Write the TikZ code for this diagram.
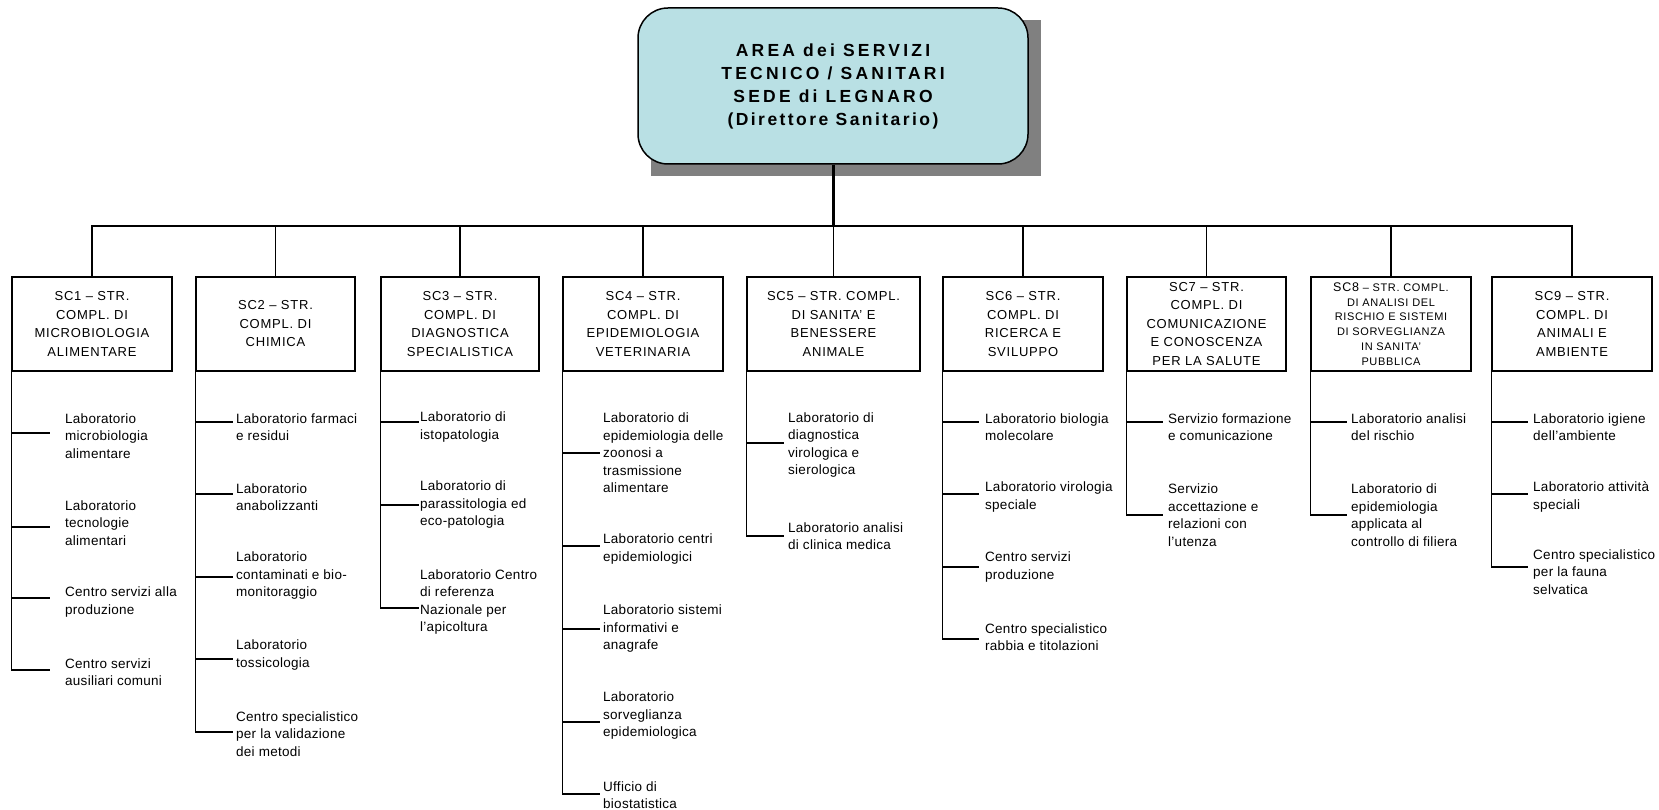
\documentclass[tikz,border=0pt]{standalone}
\usepackage{fontspec}
\setmainfont{Liberation Sans}
\usetikzlibrary{calc}
\definecolor{titlefill}{RGB}{185,224,228}
\definecolor{shadowgray}{RGB}{128,128,128}
\tikzset{
  titlebox/.style={draw=black, line width=1.5pt, fill=titlefill, rounded corners=30pt,
    minimum width=390pt, minimum height=156pt, align=center, inner sep=0pt,
    font=\bfseries\fontsize{17.5}{23}\selectfont\addfontfeatures{LetterSpace=18.5}},
  scbox/.style={draw=black, line width=1.3pt, fill=white, minimum height=94pt,
    align=center, inner sep=0pt,
    font=\fontsize{13}{18.5}\selectfont\addfontfeatures{LetterSpace=6}},
  kid/.style={anchor=west, align=left, inner sep=0pt,
    font=\fontsize{13.5}{17.5}\selectfont\addfontfeatures{LetterSpace=2}},
  conn/.style={line width=1.3pt},
  bus/.style={line width=2.4pt},
  stem/.style={line width=3pt},
}
\newcommand\kid[7]{%
  \node[kid] (#1) at (#3,#6) {#7};
  \coordinate (#1t) at (#4,#5);
  \draw[conn] (#2.south west |- #1t) -- (#1t);
}
\begin{document}
\begin{tikzpicture}[x=1pt,y=-1pt]
\useasboundingbox (0,0) rectangle (1659,810);
% title
\fill[shadowgray] (651,20) rectangle (1041,176);
\node[titlebox] (top) at (833,86) {AREA dei SERVIZI\\TECNICO / SANITARI\\SEDE di LEGNARO\\{\addfontfeatures{LetterSpace=14}(Direttore Sanitario)}};
% boxes
\node[scbox, minimum width=160pt] (sc1) at (92,324) {SC1 – STR.\\COMPL. DI\\MICROBIOLOGIA\\ALIMENTARE};
\node[scbox, minimum width=159pt] (sc2) at (275.5,324) {SC2 – STR.\\COMPL. DI\\CHIMICA};
\node[scbox, minimum width=158pt] (sc3) at (460,324) {SC3 – STR.\\COMPL. DI\\DIAGNOSTICA\\SPECIALISTICA};
\node[scbox, minimum width=160pt] (sc4) at (643,324) {SC4 – STR.\\COMPL. DI\\EPIDEMIOLOGIA\\VETERINARIA};
\node[scbox, minimum width=173pt] (sc5) at (833.5,324) {SC5 – STR. COMPL.\\DI SANITA’ E\\BENESSERE\\ANIMALE};
\node[scbox, minimum width=160pt] (sc6) at (1023,324) {SC6 – STR.\\COMPL. DI\\RICERCA E\\SVILUPPO};
\node[scbox, minimum width=159pt] (sc7) at (1206.5,324) {SC7 – STR.\\COMPL. DI\\COMUNICAZIONE\\E CONOSCENZA\\PER LA SALUTE};
\node[scbox, minimum width=160pt, font=\fontsize{11}{14.8}\selectfont\addfontfeatures{LetterSpace=6}] (sc8) at (1391,324) {{\fontsize{12.5}{14.8}\selectfont SC8} – STR. COMPL.\\DI ANALISI DEL\\RISCHIO E SISTEMI\\DI SORVEGLIANZA\\IN SANITA’\\PUBBLICA};
\node[scbox, minimum width=160pt] (sc9) at (1572,324) {SC9 – STR.\\COMPL. DI\\ANIMALI E\\AMBIENTE};
% bus
\coordinate (busy) at (0,226);
\draw[stem] (top.south) -- (top.south |- busy);
\draw[bus] ([xshift=-0.6pt]sc1.north |- busy) -- ([xshift=0.6pt]sc9.north |- busy);
\foreach \b in {sc1,sc2,sc3,sc4,sc5,sc6,sc7,sc8,sc9}
  \draw[conn] (\b.north |- busy) -- (\b.north);
% SC1
\kid{c11}{sc1}{65}{50}{433}{436}{Laboratorio\\microbiologia\\alimentare}
\kid{c12}{sc1}{65}{50}{527}{523}{Laboratorio\\tecnologie\\alimentari}
\kid{c13}{sc1}{65}{50}{598}{602}{Centro servizi alla\\produzione}
\kid{c14}{sc1}{65}{50}{670}{672}{Centro servizi\\ausiliari comuni}
\draw[conn] (sc1.south west) -- (sc1.south west |- c14t);
% SC2
\kid{c21}{sc2}{236}{233}{422}{427}{Laboratorio farmaci\\e residui}
\kid{c22}{sc2}{236}{233}{494}{497}{Laboratorio\\anabolizzanti}
\kid{c23}{sc2}{236}{233}{577}{576}{Laboratorio\\contaminati e bio-\\monitoraggio}
\kid{c24}{sc2}{236}{233}{659}{655}{Laboratorio\\tossicologia}
\kid{c25}{sc2}{236}{233}{732}{734}{Centro specialistico\\per la validazione\\dei metodi}
\draw[conn] (sc2.south west) -- (sc2.south west |- c25t);
% SC3
\kid{c31}{sc3}{420}{419}{422}{427}{Laboratorio di\\istopatologia}
\kid{c32}{sc3}{420}{419}{505}{505}{Laboratorio di\\parassitologia ed\\eco-patologia}
\kid{c33}{sc3}{420}{419}{608}{602}{Laboratorio Centro\\di referenza\\Nazionale per\\l’apicoltura}
\draw[conn] (sc3.south west) -- (sc3.south west |- c33t);
% SC4
\kid{c41}{sc4}{603}{600}{453}{453}{Laboratorio di\\epidemiologia delle\\zoonosi a\\trasmissione\\alimentare}
\kid{c42}{sc4}{603}{600}{546}{549}{Laboratorio centri\\epidemiologici}
\kid{c43}{sc4}{603}{600}{629}{629}{Laboratorio sistemi\\informativi e\\anagrafe}
\kid{c44}{sc4}{603}{600}{722}{716}{Laboratorio\\sorveglianza\\epidemiologica}
\kid{c45}{sc4}{603}{600}{794}{795}{Ufficio di\\biostatistica}
\draw[conn] (sc4.south west) -- (sc4.south west |- c45t);
% SC5
\kid{c51}{sc5}{788}{784}{443}{445}{Laboratorio di\\diagnostica\\virologica e\\sierologica}
\kid{c52}{sc5}{788}{784}{536}{536}{Laboratorio analisi\\di clinica medica}
\draw[conn] (sc5.south west) -- (sc5.south west |- c52t);
% SC6
\kid{c61}{sc6}{985}{979}{422}{427}{Laboratorio biologia\\molecolare}
\kid{c62}{sc6}{985}{979}{494}{497}{Laboratorio virologia\\speciale}
\kid{c63}{sc6}{985}{979}{567}{567}{Centro servizi\\produzione}
\kid{c64}{sc6}{985}{979}{639}{637}{Centro specialistico\\rabbia e titolazioni}
\draw[conn] (sc6.south west) -- (sc6.south west |- c64t);
% SC7
\kid{c71}{sc7}{1168}{1163}{422}{427}{Servizio formazione\\e comunicazione}
\kid{c72}{sc7}{1168}{1163}{515}{515}{Servizio\\accettazione e\\relazioni con\\l’utenza}
\draw[conn] (sc7.south west) -- (sc7.south west |- c72t);
% SC8
\kid{c81}{sc8}{1351}{1347}{422}{427}{Laboratorio analisi\\del rischio}
\kid{c82}{sc8}{1351}{1347}{515}{515}{Laboratorio di\\epidemiologia\\applicata al\\controllo di filiera}
\draw[conn] (sc8.south west) -- (sc8.south west |- c82t);
% SC9
\kid{c91}{sc9}{1533}{1528}{422}{427}{Laboratorio igiene\\dell’ambiente}
\kid{c92}{sc9}{1533}{1528}{494}{497}{Laboratorio attività\\speciali}
\kid{c93}{sc9}{1533}{1528}{567}{572}{Centro specialistico\\per la fauna\\selvatica}
\draw[conn] (sc9.south west) -- (sc9.south west |- c93t);
\end{tikzpicture}
\end{document}
